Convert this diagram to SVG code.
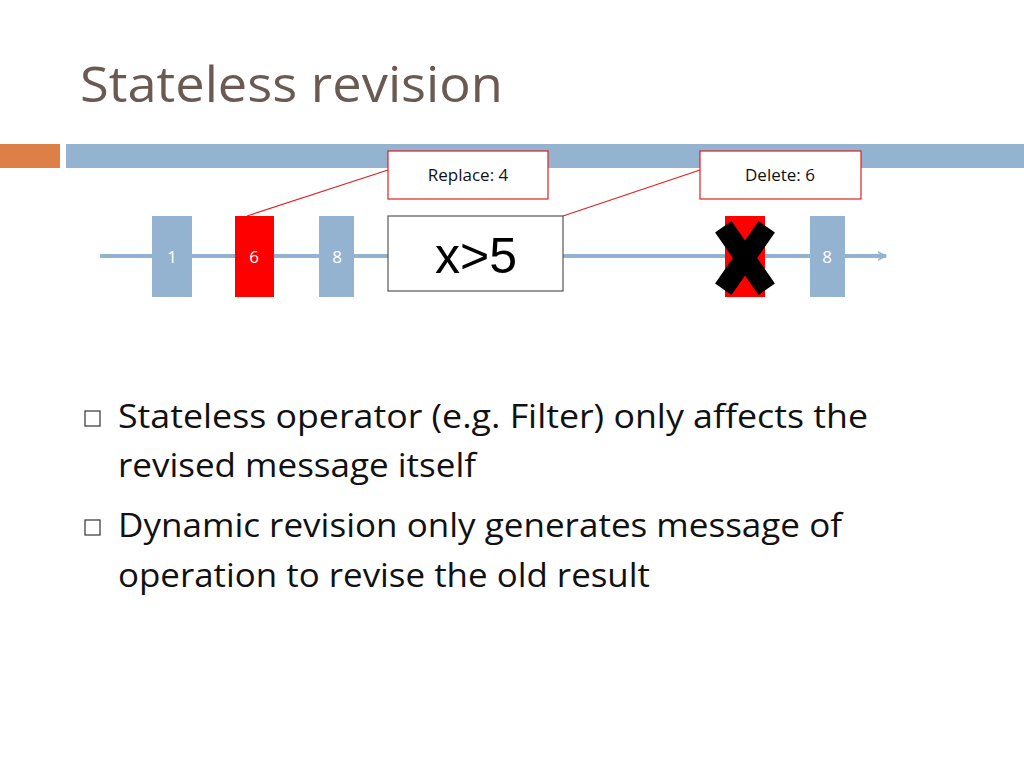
<svg xmlns="http://www.w3.org/2000/svg" width="1024" height="768" viewBox="0 0 1024 768">
<defs>
<style>
.blk{fill:#94b3d1}
.red{fill:#ff0000}
.bn{font-family:"Open Sans",sans-serif;font-size:17px;fill:#fff;text-anchor:middle}
.lbl{font-family:"Open Sans",sans-serif;font-size:17px;fill:#111;text-anchor:middle}
.call{fill:#fff;stroke:#e02020;stroke-width:1.2}
.body{font-family:"Open Sans",sans-serif;font-size:32px;fill:#111}
</style>
<marker id="ar" markerWidth="10" markerHeight="10" refX="9" refY="5" orient="auto" markerUnits="userSpaceOnUse"><path d="M1,1 L9,5 L1,9" fill="none" stroke="#94b3d1" stroke-width="1.5"/></marker>
</defs>
<rect width="1024" height="768" fill="#fff"/>
<text x="80" y="102" font-family="Open Sans,sans-serif" font-size="50" fill="#6b5a52" textLength="423" lengthAdjust="spacingAndGlyphs">Stateless revision</text>
<rect x="0" y="144" width="60" height="24" fill="#dd8047"/>
<rect x="66" y="144" width="958" height="24" fill="#94b3d1"/>
<g id="connectors">
<line x1="100" y1="256" x2="886" y2="256" stroke="#94b3d1" stroke-width="4" marker-end="url(#ar)"/>
<line x1="247" y1="216" x2="388" y2="170" stroke="#e02020" stroke-width="1.2"/>
<line x1="563" y1="216" x2="700" y2="170" stroke="#e02020" stroke-width="1.2"/>
</g>
<g id="m1"><rect class="blk" x="152" y="216" width="40" height="81"/><text class="bn" x="172" y="263">1</text></g>
<g id="m6"><rect class="red" x="235" y="216" width="39" height="81"/><text class="bn" x="254" y="263">6</text></g>
<g id="m8"><rect class="blk" x="319" y="216" width="35" height="81"/><text class="bn" x="337" y="263">8</text></g>
<g id="filter"><rect x="388" y="216" width="175" height="75" fill="#fff" stroke="#555" stroke-width="1.2"/><text x="476" y="273" font-family="Liberation Sans,sans-serif" font-size="50" fill="#000" text-anchor="middle">x&gt;5</text></g>
<g id="del"><rect class="red" x="725" y="216" width="40" height="81"/><path d="M729,235 L761,281 M761,235 L729,281" stroke="#000" stroke-width="20" stroke-linecap="square"/></g>
<g id="m8b"><rect class="blk" x="810" y="216" width="35" height="81"/><text class="bn" x="827" y="263">8</text></g>
<g id="replace"><rect class="call" x="388" y="151" width="160" height="48"/><text class="lbl" x="468" y="181">Replace: 4</text></g>
<g id="delete"><rect class="call" x="700" y="151" width="161" height="48"/><text class="lbl" x="780" y="181">Delete: 6</text></g>
<rect x="85" y="411" width="15" height="15" fill="none" stroke="#333" stroke-width="1.2"/>
<rect x="85" y="520" width="15" height="15" fill="none" stroke="#333" stroke-width="1.2"/>
<text class="body" x="118" y="428" textLength="750" lengthAdjust="spacingAndGlyphs">Stateless operator (e.g. Filter) only affects the</text>
<text class="body" x="118" y="477" textLength="358" lengthAdjust="spacingAndGlyphs">revised message itself</text>
<text class="body" x="118" y="537" textLength="724" lengthAdjust="spacingAndGlyphs">Dynamic revision only generates message of</text>
<text class="body" x="118" y="587" textLength="532" lengthAdjust="spacingAndGlyphs">operation to revise the old result</text>
</svg>
